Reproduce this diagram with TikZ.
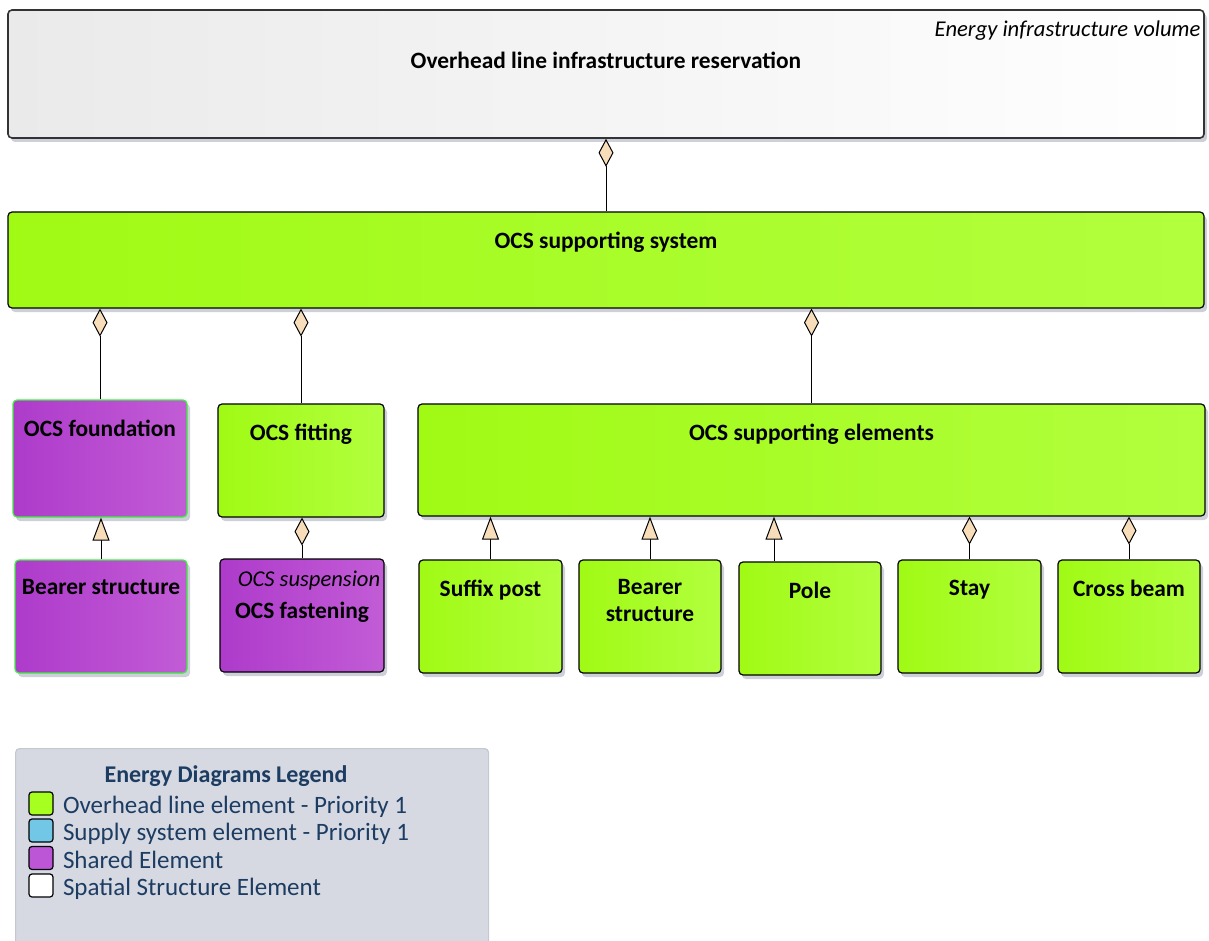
\documentclass[tikz,border=0pt]{standalone}
\usepackage{fontspec}
\setmainfont{Carlito}
\usetikzlibrary{positioning,arrows.meta,shadows}
\definecolor{ocsgreenL}{HTML}{A0FA14}
\definecolor{ocsgreenR}{HTML}{B2FF3E}
\definecolor{sharedL}{HTML}{AE3BCB}
\definecolor{sharedR}{HTML}{C25CD6}
\definecolor{volgrayL}{HTML}{EAEAEA}
\definecolor{tipfill}{HTML}{F7DDB9}
\definecolor{shadowgray}{HTML}{CDD0D8}
\definecolor{edgegreen}{HTML}{3CF03C}
\definecolor{legfill}{HTML}{D6D9E2}
\definecolor{legedge}{HTML}{C4C8D0}
\definecolor{legtext}{HTML}{1C3C62}
\definecolor{swgreen}{HTML}{A6FF1E}
\definecolor{swblue}{HTML}{72C6E6}
\definecolor{swpurple}{HTML}{BC55D6}

\begin{document}
\begin{tikzpicture}[x=0.5pt, y=-0.5pt,
  box/.style={draw, rounded corners=2pt, line width=0.6pt, inner sep=0pt,
    general shadow={fill=shadowgray, shadow xshift=1.5pt, shadow yshift=-2pt}},
  gbox/.style={box, left color=ocsgreenL, right color=ocsgreenR},
  pbox/.style={box, left color=sharedL, right color=sharedR},
  ttl/.style={font=\fontsize{11.7}{13.5}\selectfont\bfseries, anchor=north,
    inner sep=0pt, yshift=-#1, align=center},
  ttl/.default=10pt,
  stereo/.style={font=\fontsize{11.3}{13.5}\selectfont\itshape, anchor=north east,
    inner sep=0pt, xshift=-2pt, yshift=-#1},
  agg/.style={-{Diamond[fill=tipfill, length=14pt, width=7.5pt]}, line width=0.5pt},
  gen/.style={-{Triangle[fill=tipfill, length=11.5pt, width=8.5pt]}, line width=0.5pt},
  swatch/.style={draw, rounded corners=1.5pt, line width=0.6pt, minimum width=12pt,
    minimum height=11.5pt, inner sep=0pt},
  legitem/.style={anchor=base west, yshift=-5pt, inner sep=0pt, text=legtext,
    font=\fontsize{12.5}{15}\selectfont}
]
  \useasboundingbox (0,0) rectangle (1209,941);

  % volume and supporting system
  \node[box, left color=volgrayL, right color=white, draw=black!80, line width=0.8pt,
    minimum width=598pt, minimum height=64pt,
    label={[ttl=21pt]north:Overhead line infrastructure reservation},
    label={[stereo=5.5pt]north east:Energy infrastructure volume}] (res) at (606,74) {};
  \node[gbox, minimum width=598pt, minimum height=48pt,
    label={[ttl]north:OCS supporting system}] (sys) at (606,260) {};

  % second row
  \node[pbox, draw=edgegreen, minimum width=87pt, minimum height=58.5pt,
    label={[ttl]north:OCS foundation}] (found) at (100,458.5) {};
  \node[gbox, minimum width=83pt, minimum height=56.5pt,
    label={[ttl]north:OCS fitting}] (fit) at (301,460.5) {};
  \node[gbox, minimum width=393.5pt, minimum height=56pt,
    label={[ttl]north:OCS supporting elements}] (elems) at (811.5,460) {};

  % third row
  \node[pbox, draw=edgegreen, minimum width=86pt, minimum height=56.5pt,
    label={[ttl]north:Bearer structure}] (bear1) at (101,616.5) {};
  \node[pbox, minimum width=82pt, minimum height=56.5pt,
    label={[stereo=6pt]north east:OCS suspension},
    label={[ttl=21.5pt]north:OCS fastening}] (fasten) at (302,615.5) {};
  \node[gbox, minimum width=71.5pt, minimum height=56.5pt,
    label={[ttl]north:Suffix post}] (suffix) at (490.5,616.5) {};
  \node[gbox, minimum width=71pt, minimum height=56.5pt,
    label={[ttl]north:Bearer\\structure}] (bear2) at (650,616.5) {};
  \node[gbox, minimum width=71pt, minimum height=56.5pt,
    label={[ttl]north:Pole}] (pole) at (810,618.5) {};
  \node[gbox, minimum width=71.5pt, minimum height=56.5pt,
    label={[ttl]north:Stay}] (stay) at (969.5,616.5) {};
  \node[gbox, minimum width=71pt, minimum height=56.5pt,
    label={[ttl]north:Cross beam}] (cross) at (1129,616.5) {};

  % connectors
  \draw[agg] (sys.north) -- (sys.north |- res.south);
  \draw[agg] (found.north) -- (found.north |- sys.south);
  \draw[agg] (fit.north) -- (fit.north |- sys.south);
  \draw[agg] (elems.north) -- (elems.north |- sys.south);
  \draw[gen] (bear1.north) -- (bear1.north |- found.south);
  \draw[agg] (fasten.north) -- (fasten.north |- fit.south);
  \draw[gen] (suffix.north) -- (suffix.north |- elems.south);
  \draw[gen] (bear2.north) -- (bear2.north |- elems.south);
  \draw[gen] ([xshift=-18pt]pole.north) -- ([xshift=-18pt]pole.north |- elems.south);
  \draw[agg] (stay.north) -- (stay.north |- elems.south);
  \draw[agg] (cross.north) -- (cross.north |- elems.south);

  % legend
  \node[draw=legedge, fill=legfill, rounded corners=2pt, line width=0.6pt,
    minimum width=236.5pt, minimum height=106pt, anchor=north west] (legend) at (15,748) {};
  \node[anchor=base, inner sep=0pt, text=legtext, font=\fontsize{12}{14}\selectfont\bfseries]
    (legtitle) at (226,782.7) {Energy Diagrams Legend};
  \node[swatch, fill=swgreen] (sw1) at (41,803.5) {};
  \node[swatch, fill=swblue] (sw2) at (41,830.5) {};
  \node[swatch, fill=swpurple] (sw3) at (41,858) {};
  \node[swatch, fill=white] (sw4) at (41,885.5) {};
  \node[right=4.5pt of sw1, legitem] (it1) {Overhead line element - Priority 1};
  \node[right=4.5pt of sw2, legitem] (it2) {Supply system element - Priority 1};
  \node[right=4.5pt of sw3, legitem] (it3) {Shared Element};
  \node[right=4.5pt of sw4, legitem] (it4) {Spatial Structure Element};
\end{tikzpicture}
\end{document}
